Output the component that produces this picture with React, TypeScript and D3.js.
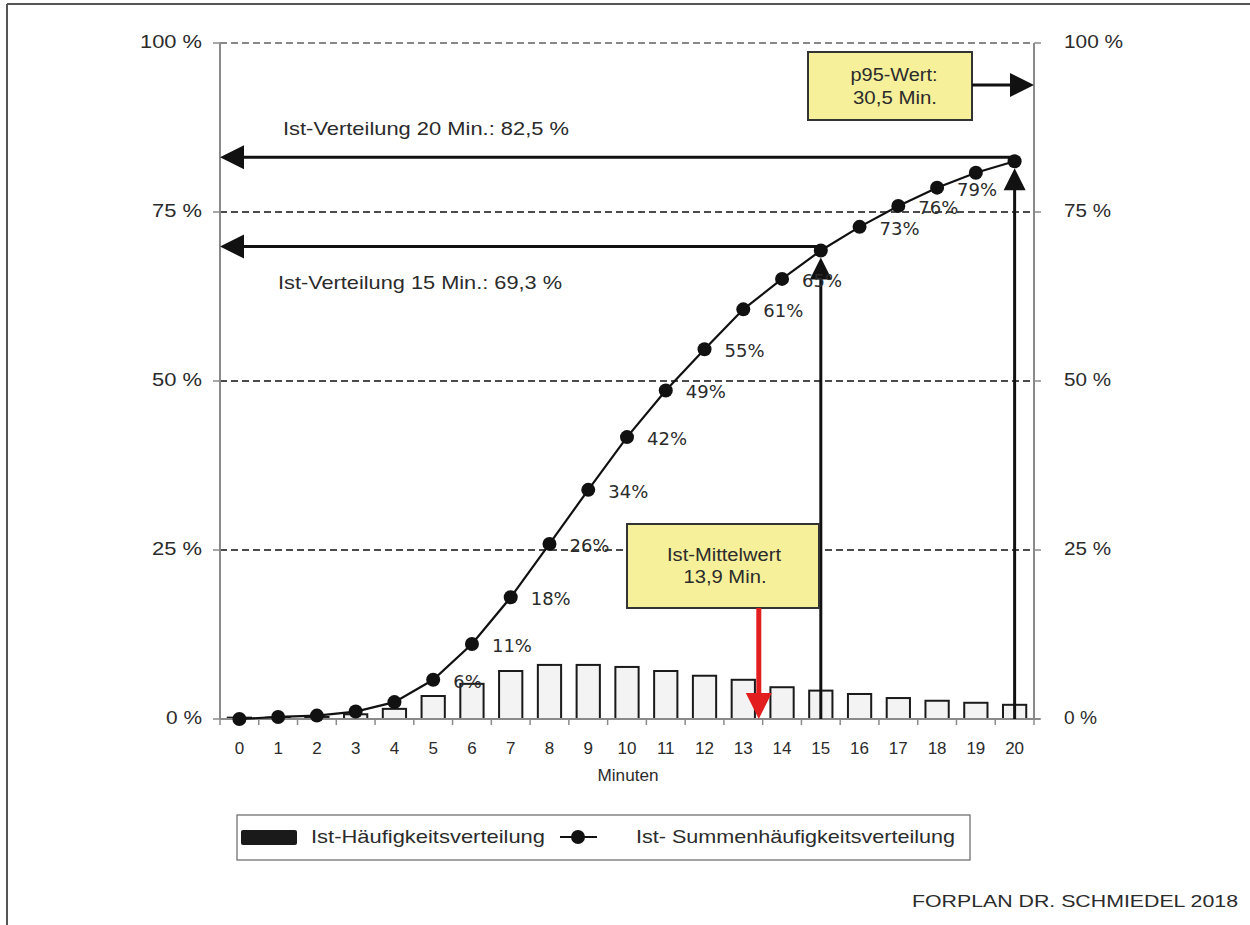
import React from "react";
import * as d3 from "d3";

// Minutes on the x axis (each category covers [k, k+1) minutes)
const minutes = d3.range(0, 21);
// Ist-Häufigkeitsverteilung: share of cases per minute (fraction)
const frequency = [0.002, 0.002, 0.003, 0.007, 0.015, 0.034, 0.052, 0.071, 0.08, 0.08, 0.077, 0.071, 0.064, 0.058, 0.047, 0.042, 0.037, 0.031, 0.027, 0.024, 0.021];
// Ist-Summenhäufigkeitsverteilung: cumulative share (fraction)
const cumulative = [0.0, 0.003, 0.005, 0.011, 0.025, 0.058, 0.111, 0.18, 0.259, 0.339, 0.417, 0.486, 0.547, 0.606, 0.651, 0.693, 0.728, 0.759, 0.786, 0.808, 0.825];
// Points whose cumulative value is written next to the marker
const labeledMinutes = [5, 6, 7, 8, 9, 10, 11, 12, 13, 14, 16, 17, 18];
const yTicks = [0, 0.25, 0.5, 0.75, 1];
const yTickLabels = ["0 %", "25 %", "50 %", "75 %", "100 %"];
const yTickLabelWidths = [36, 50, 50, 50, 62];

const meanMinutes = 13.9;
const p95Minutes = 30.5;
const markers = [
  { minute: 20, value: 0.825, text: "Ist-Verteilung 20 Min.: 82,5 %" },
  { minute: 15, value: 0.693, text: "Ist-Verteilung 15 Min.: 69,3 %" },
];

const W = 1250;
const H = 925;
const left = 220;
const right = 1034;
const top = 43;
const bottom = 719;

const SANS = "'Liberation Sans', Arial, sans-serif";
const DEJAVU = "'DejaVu Sans', sans-serif";
const TXT = "#2b2b2b";

type TProps = {
  x: number;
  y: number;
  size: number;
  len?: number;
  anchor?: "start" | "middle" | "end";
  family?: string;
  children: React.ReactNode;
};

// Text helper: the typeface of this chart runs a little wider than Liberation Sans
function T({ x, y, size, len, anchor = "start", family = SANS, children }: TProps) {
  return (
    <text
      x={x}
      y={y}
      textAnchor={anchor}
      dominantBaseline="middle"
      fontFamily={family}
      fontSize={size}
      fill={TXT}
      textLength={len}
      lengthAdjust={len ? "spacingAndGlyphs" : undefined}
    >
      {children}
    </text>
  );
}

export default function App() {
  const x = d3.scaleBand<number>().domain(minutes).range([left, right]).paddingInner(0).paddingOuter(0);
  const bw = x.bandwidth();
  const cx = (m: number) => (x(m) as number) + bw / 2;
  const y = d3.scaleLinear().domain([0, 1]).range([bottom, top]);

  const line = d3
    .line<number>()
    .x((_, i) => cx(minutes[i]))
    .y((d) => y(d));

  const barW = bw * 0.6;
  const meanX = (x(Math.floor(meanMinutes)) as number) + (meanMinutes - Math.floor(meanMinutes)) * bw;

  // horizontal reference arrows sit just above their marker
  const leftArrow = (yy: number, x1: number, key: string) => (
    <g key={key}>
      <line x1={x1} x2={left + 18} y1={yy} y2={yy} stroke="#111" strokeWidth={3} />
      <polygon points={`${left},${yy} ${left + 24},${yy - 12} ${left + 24},${yy + 12}`} fill="#111" />
    </g>
  );

  const upArrow = (xx: number, tipY: number, key: string) => (
    <g key={key}>
      <line x1={xx} x2={xx} y1={bottom} y2={tipY + 16} stroke="#111" strokeWidth={3} />
      <polygon points={`${xx},${tipY} ${xx - 11},${tipY + 22} ${xx + 11},${tipY + 22}`} fill="#111" />
    </g>
  );

  return (
    <svg width={W} height={H} style={{ position: "absolute", left: 0, top: 0, background: "#fff" }}>
      {/* outer frame */}
      <line x1={7} x2={7} y1={4} y2={H} stroke="#555" strokeWidth={2} />
      <line x1={7} x2={W} y1={4} y2={4} stroke="#555" strokeWidth={2} />

      {/* gridlines */}
      {yTicks.slice(1).map((t) => (
        <line
          key={`g${t}`}
          x1={left}
          x2={right}
          y1={y(t)}
          y2={y(t)}
          stroke={t === 1 ? "#888" : "#111"}
          strokeWidth={t === 1 ? 2 : 1.6}
          strokeDasharray="7,4"
        />
      ))}

      {/* axes */}
      <line x1={left} x2={left} y1={top} y2={bottom} stroke="#8a8a8a" strokeWidth={2} />
      <line x1={right} x2={right} y1={top} y2={bottom} stroke="#8a8a8a" strokeWidth={2} />
      {yTicks.map((t, i) => (
        <g key={`yt${t}`}>
          <line x1={left - 7} x2={left} y1={y(t)} y2={y(t)} stroke="#8a8a8a" strokeWidth={1.5} />
          <line x1={right} x2={right + 7} y1={y(t)} y2={y(t)} stroke="#8a8a8a" strokeWidth={1.5} />
          <T x={202} y={y(t)} size={18} anchor="end" len={yTickLabelWidths[i]}>
            {yTickLabels[i]}
          </T>
          <T x={1064} y={y(t)} size={18} len={yTickLabelWidths[i] - 3}>
            {yTickLabels[i]}
          </T>
        </g>
      ))}

      {/* bars */}
      {minutes.map((m, i) => (
        <rect
          key={`b${m}`}
          x={cx(m) - barW / 2}
          y={y(frequency[i])}
          width={barW}
          height={bottom - y(frequency[i])}
          fill="#f3f3f3"
          stroke="#1a1a1a"
          strokeWidth={2}
        />
      ))}

      {/* x axis */}
      <line x1={left} x2={right + 6} y1={bottom} y2={bottom} stroke="#8a8a8a" strokeWidth={2} />
      {minutes.concat([21]).map((m) => {
        const xx = m === 21 ? right : (x(m) as number);
        return <line key={`xt${m}`} x1={xx} x2={xx} y1={bottom} y2={bottom + 6} stroke="#8a8a8a" strokeWidth={1.5} />;
      })}
      {minutes.map((m) => (
        <T key={`xl${m}`} x={cx(m)} y={750} size={17} anchor="middle">
          {m}
        </T>
      ))}
      <T x={628} y={777} size={16} anchor="middle" len={61}>
        Minuten
      </T>

      {/* reference arrows */}
      {markers.map((mk) => leftArrow(y(mk.value) - 4, cx(mk.minute), `la${mk.minute}`))}
      {markers.map((mk) => upArrow(cx(mk.minute), y(mk.value) + 7, `ua${mk.minute}`))}
      <T x={283} y={130} size={19} len={286}>
        {markers[0].text}
      </T>
      <T x={278} y={284} size={19} len={284}>
        {markers[1].text}
      </T>

      {/* cumulative line */}
      <path d={line(cumulative) ?? ""} fill="none" stroke="#111" strokeWidth={2.2} />
      {minutes.map((m, i) => (
        <circle key={`c${m}`} cx={cx(m)} cy={y(cumulative[i])} r={7} fill="#111" />
      ))}
      {labeledMinutes.map((m) => (
        <T key={`dl${m}`} x={cx(m) + 20} y={y(cumulative[m]) + 3} size={18} family={DEJAVU}>
          {`${Math.round(cumulative[m] * 100)}%`}
        </T>
      ))}

      {/* p95 box with arrow pointing beyond the axis */}
      <rect x={808} y={52} width={164} height={68} fill="#f7f09a" stroke="#333" strokeWidth={2} />
      <T x={894} y={76} size={18} anchor="middle" len={87}>
        p95-Wert:
      </T>
      <T x={895} y={99} size={18} anchor="middle" len={84}>
        {`${String(p95Minutes).replace(".", ",")} Min.`}
      </T>
      <line x1={972} x2={1014} y1={85} y2={85} stroke="#111" strokeWidth={3} />
      <polygon points={`${right},85 ${right - 24},73 ${right - 24},97`} fill="#111" />

      {/* mean box with red arrow */}
      <rect x={627} y={524} width={192} height={84} fill="#f7f09a" stroke="#333" strokeWidth={2} />
      <T x={724} y={556} size={18} anchor="middle" len={114}>
        Ist-Mittelwert
      </T>
      <T x={725} y={578} size={18} anchor="middle" len={83}>
        {`${String(meanMinutes).replace(".", ",")} Min.`}
      </T>
      <line x1={meanX} x2={meanX} y1={608} y2={700} stroke="#e31e1e" strokeWidth={5} />
      <polygon points={`${meanX},${bottom} ${meanX - 13},${bottom - 26} ${meanX + 13},${bottom - 26}`} fill="#e31e1e" />

      {/* legend */}
      <rect x={237} y={815} width={733} height={45} fill="#fff" stroke="#666" strokeWidth={1.2} />
      <rect x={241} y={830} width={56} height={15} rx={2} fill="#1a1a1a" />
      <T x={311} y={838} size={19} len={234}>
        Ist-Häufigkeitsverteilung
      </T>
      <line x1={560} x2={597} y1={837} y2={837} stroke="#111" strokeWidth={2} />
      <circle cx={578} cy={837} r={7} fill="#111" />
      <T x={636} y={838} size={19} len={319}>
        Ist- Summenhäufigkeitsverteilung
      </T>

      <T x={1238} y={903} size={17} anchor="end" len={326}>
        FORPLAN DR. SCHMIEDEL 2018
      </T>
    </svg>
  );
}
